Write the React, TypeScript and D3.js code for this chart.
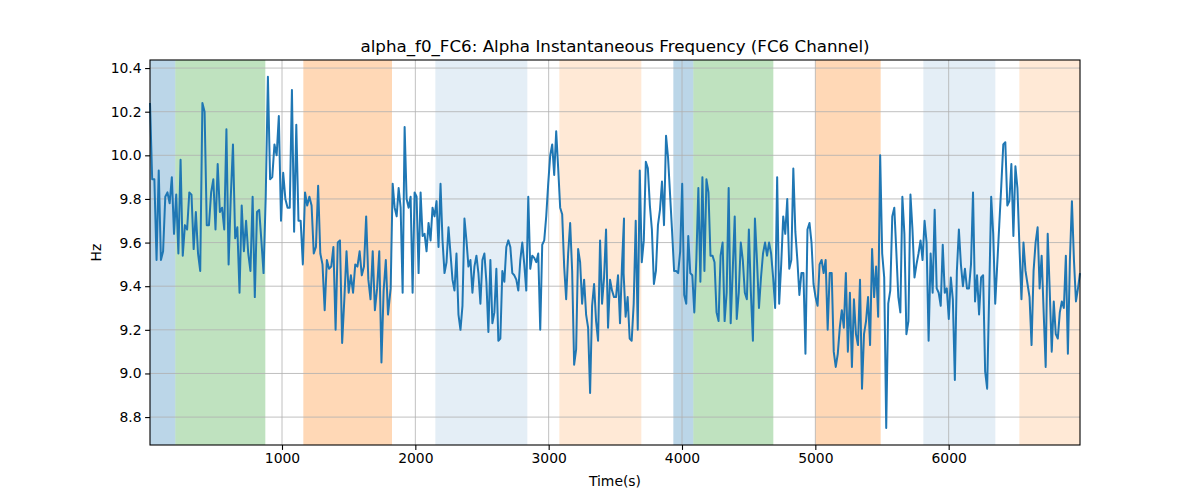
import { useEffect, useRef } from 'react';
import * as d3 from 'd3';

// instantaneous frequency samples (Hz), four recorded stretches, each evenly spaced in time
const freq1 = [10.24, 9.89, 9.89, 9.52, 9.93, 9.52, 9.56, 9.81, 9.83, 9.78, 9.9, 9.64, 9.82, 9.55, 9.98, 9.54, 9.68, 9.66, 9.83, 9.82, 9.57, 9.74, 9.55, 9.47, 10.24, 10.2, 9.68, 9.68, 9.83, 9.89, 9.66, 9.96, 9.74, 9.76, 9.66, 10.12, 9.5, 9.81, 10.05, 9.62, 9.67, 9.37, 9.77, 9.56, 9.7, 9.55, 9.47, 9.81, 9.35, 9.74, 9.75, 9.61, 9.46, 9.81, 10.36, 9.89, 9.9, 10.05, 10.0, 10.18, 9.7, 9.92, 9.8, 9.76, 9.76, 10.3, 9.65, 10.14, 9.7, 9.7, 9.5, 9.83, 9.77, 9.81, 9.77, 9.55, 9.58, 9.86, 9.55, 9.5, 9.29, 9.52, 9.48, 9.49, 9.58, 9.2, 9.6, 9.61, 9.14, 9.34, 9.56, 9.37, 9.45, 9.37, 9.5, 9.49, 9.56, 9.45, 9.49, 9.72, 9.43, 9.34, 9.56, 9.29, 9.39, 9.56, 9.05, 9.38, 9.52, 9.27];
const freq2 = [9.39, 9.87, 9.76, 9.72, 9.85, 9.76, 9.37, 10.13, 9.8, 9.76, 9.81, 9.37, 9.83, 9.81, 9.46, 9.83, 9.63, 9.64, 9.56, 9.69, 9.61, 9.76, 9.72, 9.79, 9.58, 9.87, 9.61, 9.46, 9.51, 9.67, 9.55, 9.43, 9.38, 9.55, 9.27, 9.2, 9.31, 9.71, 9.61, 9.49, 9.52, 9.37, 9.49, 9.54, 9.46, 9.32, 9.52, 9.55, 9.42, 9.19, 9.52, 9.23, 9.28, 9.48, 9.15, 9.16, 9.47, 9.42, 9.58, 9.61, 9.58, 9.46, 9.45, 9.43, 9.38, 9.52, 9.6, 9.5, 9.38, 9.81, 9.48, 9.54, 9.53, 9.51, 9.55, 9.2, 9.59, 9.61, 9.72, 9.87, 10.0, 10.05, 9.91, 10.11, 9.94, 9.76, 9.73, 9.49, 9.34, 9.55, 9.69, 9.47, 9.04, 9.11, 9.57, 9.51, 9.32, 9.43, 9.27, 9.21, 8.91, 9.31, 9.41, 9.24, 9.15, 9.61, 9.32, 9.44, 9.66, 9.21, 9.43, 9.38, 9.35, 9.35, 9.45, 9.23, 9.5, 9.71];
const freq3 = [9.46, 9.26, 9.35, 9.16, 9.15, 9.32, 9.7, 9.2, 9.93, 9.51, 9.61, 9.97, 9.94, 9.77, 9.66, 9.41, 9.47, 9.68, 9.75, 9.88, 9.68, 10.09, 9.99, 9.82, 9.65, 9.47, 9.47, 9.46, 9.56, 9.87, 9.36, 9.32, 9.63, 9.46, 9.45, 9.28, 9.52, 9.85, 9.42, 9.9, 9.47, 9.89, 9.83, 9.54, 9.54, 9.51, 9.28, 9.24, 9.54, 9.6, 9.24, 9.37, 9.85, 9.23, 9.47, 9.72, 9.25, 9.37, 9.6, 9.52, 9.37, 9.34, 9.66, 9.37, 9.15, 9.71, 9.52, 9.3, 9.44, 9.55, 9.6, 9.54, 9.6, 9.55, 9.44, 9.3, 9.9, 9.32, 9.5, 9.72, 9.64, 9.8, 9.48, 9.52, 9.94, 9.65, 9.52, 9.36, 9.46, 9.46, 9.09, 9.66, 9.69, 9.6, 9.41, 9.35, 9.31, 9.5, 9.52, 9.46, 9.52, 9.2, 9.46, 9.46, 9.1, 9.03, 9.09, 9.21, 9.29, 9.21, 9.46, 9.1, 9.37, 9.03, 9.34, 9.18, 9.13, 9.43];
const freq4 = [8.93, 9.18, 9.24, 9.35, 9.13, 9.57, 9.35, 9.49, 9.26, 10.0, 9.55, 9.44, 8.75, 9.32, 9.38, 9.72, 9.76, 9.56, 9.35, 9.28, 9.81, 9.64, 9.18, 9.24, 9.82, 9.66, 9.44, 9.5, 9.55, 9.61, 9.52, 9.7, 9.6, 9.15, 9.55, 9.37, 9.75, 9.39, 9.37, 9.31, 9.59, 9.37, 9.39, 9.25, 9.44, 9.34, 8.97, 9.47, 9.66, 9.5, 9.4, 9.48, 9.39, 9.39, 9.5, 9.83, 9.33, 9.45, 9.27, 9.44, 9.45, 9.01, 8.93, 9.36, 9.81, 9.64, 9.32, 9.5, 9.68, 9.86, 10.05, 10.06, 9.77, 9.79, 9.96, 9.63, 9.95, 9.85, 9.58, 9.34, 9.6, 9.47, 9.41, 9.35, 9.13, 9.47, 9.6, 9.67, 9.39, 9.54, 9.28, 9.03, 9.64, 9.38, 9.1, 9.33, 9.18, 9.16, 9.28, 9.33, 9.3, 9.54, 9.09, 9.52, 9.79, 9.52, 9.33, 9.39, 9.46];
const segValues = [freq1, freq2, freq3, freq4];
const segStart = [10, 1815, 3562, 5350];
const segEnd = [1795, 3565, 5335, 6985];

const timeMin = 10;
const timeMax = 6985;

// shaded intervals
const spanStarts = [10, 200, 1160, 2150, 3080, 3935, 4085, 5000, 5810, 6530];
const spanEnds = [200, 875, 1825, 2840, 3695, 4085, 4685, 5490, 6350, 6985];
const spanKinds = ['blue', 'green', 'orange', 'lightblue', 'lightorange', 'blue', 'green', 'orange', 'lightblue', 'lightorange'];
const spanFill: Record<string, string> = {
  blue: 'rgba(31,119,180,0.3)',
  green: 'rgba(44,160,44,0.3)',
  orange: 'rgba(255,127,14,0.3)',
  lightblue: 'rgba(31,119,180,0.12)',
  lightorange: 'rgba(255,127,14,0.17)',
};

const xTicks = [1000, 2000, 3000, 4000, 5000, 6000];
const yTicks = [8.8, 9.0, 9.2, 9.4, 9.6, 9.8, 10.0, 10.2, 10.4];

const App = () => {
  const svgRef = useRef<SVGSVGElement | null>(null);

  useEffect(() => {
    const width = 1200;
    const height = 500;
    const m = { left: 150, right: 1080, top: 60, bottom: 445 };
    const font = 'DejaVu Sans, sans-serif';

    const svg = d3.select(svgRef.current);
    svg.selectAll('*').remove();
    svg.attr('width', width).attr('height', height);

    const x = d3.scaleLinear().domain([timeMin, timeMax]).range([m.left, m.right]);
    const y = d3.scaleLinear().domain([8.672, 10.437]).range([m.bottom, m.top]);

    // build (time, value) pairs per stretch
    const points: [number, number][] = [];
    segValues.forEach((vals, s) => {
      const t = d3.scaleLinear().domain([0, vals.length - 1]).range([segStart[s], segEnd[s]]);
      vals.forEach((v, i) => points.push([t(i), v]));
    });

    svg.append('g').selectAll('rect')
      .data(spanStarts)
      .enter()
      .append('rect')
      .attr('x', d => x(d))
      .attr('width', (d, i) => x(spanEnds[i]) - x(d))
      .attr('y', m.top)
      .attr('height', m.bottom - m.top)
      .attr('fill', (_, i) => spanFill[spanKinds[i]]);

    const grid = svg.append('g').attr('stroke', '#b0b0b0').attr('stroke-width', 0.8);
    xTicks.forEach(v => {
      grid.append('line').attr('x1', x(v)).attr('x2', x(v)).attr('y1', m.top).attr('y2', m.bottom);
    });
    yTicks.forEach(v => {
      grid.append('line').attr('x1', m.left).attr('x2', m.right).attr('y1', y(v)).attr('y2', y(v));
    });

    const line = d3.line<[number, number]>()
      .x(d => x(d[0]))
      .y(d => y(d[1]));
    svg.append('path')
      .datum(points)
      .attr('d', line)
      .attr('fill', 'none')
      .attr('stroke', '#1f77b4')
      .attr('stroke-width', 2)
      .attr('stroke-linejoin', 'round');

    const xAxis = svg.append('g')
      .attr('transform', `translate(0,${m.bottom})`)
      .call(d3.axisBottom(x).tickValues(xTicks).tickSize(4.9).tickPadding(3.5).tickFormat(d3.format('d')));
    const yAxis = svg.append('g')
      .attr('transform', `translate(${m.left},0)`)
      .call(d3.axisLeft(y).tickValues(yTicks).tickSize(4.9).tickPadding(3.5).tickFormat(d3.format('.1f')));
    [xAxis, yAxis].forEach(a => {
      a.select('.domain').remove();
      a.selectAll('text').style('font-family', font).style('font-size', '13.9px').attr('fill', '#000');
      a.selectAll('line').attr('stroke', '#000').attr('stroke-width', 1.1);
    });

    svg.append('rect')
      .attr('x', m.left).attr('y', m.top)
      .attr('width', m.right - m.left).attr('height', m.bottom - m.top)
      .attr('fill', 'none').attr('stroke', '#000').attr('stroke-width', 1.1);

    svg.append('text')
      .attr('x', (m.left + m.right) / 2).attr('y', 52)
      .attr('text-anchor', 'middle')
      .style('font-family', font).style('font-size', '16.7px')
      .text('alpha_f0_FC6: Alpha Instantaneous Frequency (FC6 Channel)');

    svg.append('text')
      .attr('x', (m.left + m.right) / 2).attr('y', 486)
      .attr('text-anchor', 'middle')
      .style('font-family', font).style('font-size', '13.9px')
      .text('Time(s)');

    svg.append('text')
      .attr('transform', `translate(101,${(m.top + m.bottom) / 2}) rotate(-90)`)
      .attr('text-anchor', 'middle')
      .style('font-family', font).style('font-size', '13.9px')
      .text('Hz');
  }, []);

  return <svg ref={svgRef} style={{ position: 'absolute', left: 0, top: 0 }}></svg>;
};

export default App;
